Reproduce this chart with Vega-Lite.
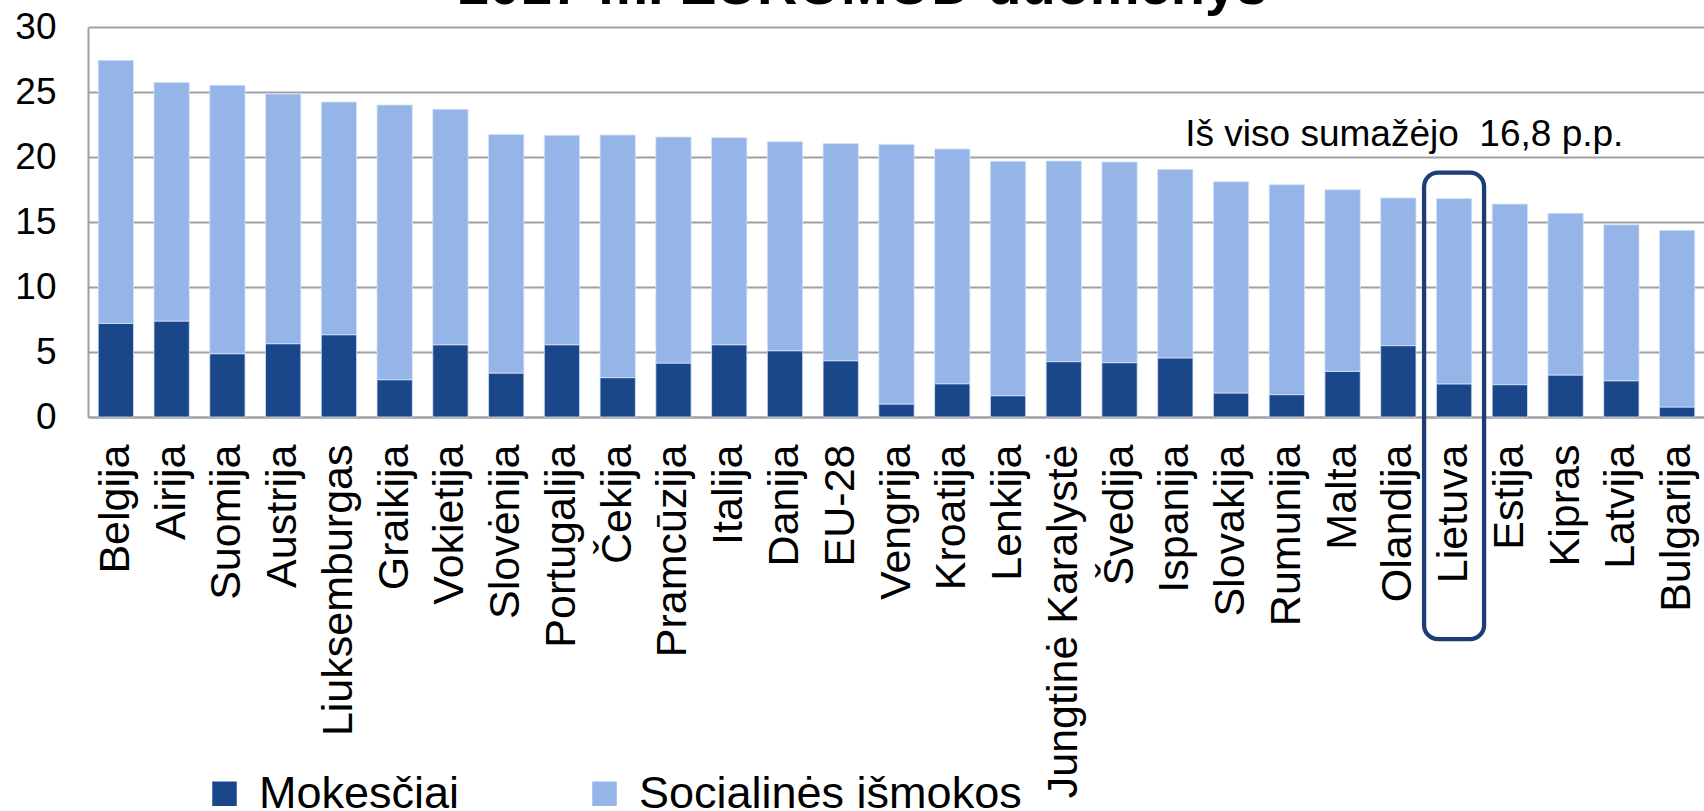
{
  "$schema": "https://vega.github.io/schema/vega-lite/v6.json",
  "autosize": {"type": "none"},
  "padding": {"left": 88, "top": 27, "right": 0, "bottom": 394},
  "width": 1617,
  "height": 390,
  "config": {
    "view": {"stroke": null},
    "font": "Liberation Sans",
    "axis": {"labelFont": "Liberation Sans", "labelColor": "#000000"},
    "legend": {"labelFont": "Liberation Sans"}
  },
  "datasets": {
    "bars": [
      {"country": "Belgija", "series": "Mokesčiai", "value": 7.2},
      {"country": "Belgija", "series": "Socialinės išmokos", "value": 20.24},
      {"country": "Airija", "series": "Mokesčiai", "value": 7.38},
      {"country": "Airija", "series": "Socialinės išmokos", "value": 18.36},
      {"country": "Suomija", "series": "Mokesčiai", "value": 4.87},
      {"country": "Suomija", "series": "Socialinės išmokos", "value": 20.64},
      {"country": "Austrija", "series": "Mokesčiai", "value": 5.64},
      {"country": "Austrija", "series": "Socialinės išmokos", "value": 19.21},
      {"country": "Liuksemburgas", "series": "Mokesčiai", "value": 6.33},
      {"country": "Liuksemburgas", "series": "Socialinės išmokos", "value": 17.9},
      {"country": "Graikija", "series": "Mokesčiai", "value": 2.87},
      {"country": "Graikija", "series": "Socialinės išmokos", "value": 21.13},
      {"country": "Vokietija", "series": "Mokesčiai", "value": 5.56},
      {"country": "Vokietija", "series": "Socialinės išmokos", "value": 18.11},
      {"country": "Slovėnija", "series": "Mokesčiai", "value": 3.38},
      {"country": "Slovėnija", "series": "Socialinės išmokos", "value": 18.36},
      {"country": "Portugalija", "series": "Mokesčiai", "value": 5.56},
      {"country": "Portugalija", "series": "Socialinės išmokos", "value": 16.11},
      {"country": "Čekija", "series": "Mokesčiai", "value": 3.03},
      {"country": "Čekija", "series": "Socialinės išmokos", "value": 18.66},
      {"country": "Pramcūzija", "series": "Mokesčiai", "value": 4.15},
      {"country": "Pramcūzija", "series": "Socialinės išmokos", "value": 17.39},
      {"country": "Italija", "series": "Mokesčiai", "value": 5.56},
      {"country": "Italija", "series": "Socialinės išmokos", "value": 15.93},
      {"country": "Danija", "series": "Mokesčiai", "value": 5.1},
      {"country": "Danija", "series": "Socialinės išmokos", "value": 16.08},
      {"country": "EU-28", "series": "Mokesčiai", "value": 4.33},
      {"country": "EU-28", "series": "Socialinės išmokos", "value": 16.7},
      {"country": "Vengrija", "series": "Mokesčiai", "value": 1.0},
      {"country": "Vengrija", "series": "Socialinės išmokos", "value": 19.97},
      {"country": "Kroatija", "series": "Mokesčiai", "value": 2.56},
      {"country": "Kroatija", "series": "Socialinės išmokos", "value": 18.06},
      {"country": "Lenkija", "series": "Mokesčiai", "value": 1.64},
      {"country": "Lenkija", "series": "Socialinės išmokos", "value": 18.03},
      {"country": "Jungtinė Karalystė", "series": "Mokesčiai", "value": 4.26},
      {"country": "Jungtinė Karalystė", "series": "Socialinės išmokos", "value": 15.43},
      {"country": "Švedija", "series": "Mokesčiai", "value": 4.18},
      {"country": "Švedija", "series": "Socialinės išmokos", "value": 15.44},
      {"country": "Ispanija", "series": "Mokesčiai", "value": 4.55},
      {"country": "Ispanija", "series": "Socialinės išmokos", "value": 14.5},
      {"country": "Slovakija", "series": "Mokesčiai", "value": 1.85},
      {"country": "Slovakija", "series": "Socialinės išmokos", "value": 16.25},
      {"country": "Rumunija", "series": "Mokesčiai", "value": 1.72},
      {"country": "Rumunija", "series": "Socialinės išmokos", "value": 16.15},
      {"country": "Malta", "series": "Mokesčiai", "value": 3.51},
      {"country": "Malta", "series": "Socialinės išmokos", "value": 13.98},
      {"country": "Olandija", "series": "Mokesčiai", "value": 5.49},
      {"country": "Olandija", "series": "Socialinės išmokos", "value": 11.36},
      {"country": "Lietuva", "series": "Mokesčiai", "value": 2.55},
      {"country": "Lietuva", "series": "Socialinės išmokos", "value": 14.25},
      {"country": "Estija", "series": "Mokesčiai", "value": 2.49},
      {"country": "Estija", "series": "Socialinės išmokos", "value": 13.89},
      {"country": "Kipras", "series": "Mokesčiai", "value": 3.23},
      {"country": "Kipras", "series": "Socialinės išmokos", "value": 12.44},
      {"country": "Latvija", "series": "Mokesčiai", "value": 2.79},
      {"country": "Latvija", "series": "Socialinės išmokos", "value": 12.0},
      {"country": "Bulgarija", "series": "Mokesčiai", "value": 0.77},
      {"country": "Bulgarija", "series": "Socialinės išmokos", "value": 13.59}
    ],
    "highlight": [
      {"country": "Lietuva", "top": 18.8, "bottom": -17.09}
    ],
    "note": [
      {"country": "Olandija", "y": 20.87, "label": "Iš viso sumažėjo\u00a0 16,8 p.p."}
    ],
    "heading": [
      {"country": "EU-28", "y": 31.8, "label": "2017 m. EUROMOD duomenys"}
    ]
  },
  "layer": [
    {
      "data": {"name": "bars"},
      "mark": {"type": "bar", "stroke": "#D6E2F7", "strokeWidth": 0.8},
      "encoding": {
        "x": {
          "field": "country", "type": "nominal", "sort": null,
          "scale": {"paddingInner": 0.367, "paddingOuter": 0.1835},
          "axis": {"title": null, "labelAngle": -90, "labelFontSize": 43, "labelPadding": 27, "ticks": false, "labelLimit": 1000, "labelOverlap": false, "domainColor": "#A0A0A0", "domainWidth": 2, "grid": false}
        },
        "y": {
          "field": "value", "type": "quantitative", "stack": "zero",
          "scale": {"domain": [0, 30], "nice": false},
          "axis": {"title": null, "values": [0, 5, 10, 15, 20, 25, 30], "labelFontSize": 37, "labelPadding": 32, "ticks": false, "grid": true, "gridColor": "#A0A0A0", "gridWidth": 2, "domainColor": "#A0A0A0", "domainWidth": 2}
        },
        "color": {
          "field": "series", "type": "nominal",
          "scale": {"domain": ["Mokesčiai", "Socialinės išmokos"], "range": ["#1A4789", "#95B4E8"]},
          "legend": {"title": null, "orient": "none", "direction": "horizontal", "legendX": 114, "legendY": 744, "labelFontSize": 45, "labelColor": "#000000", "labelLimit": 1000, "symbolType": "square", "symbolSize": 600, "symbolStrokeWidth": 0, "labelOffset": 12, "columnPadding": 122, "padding": 0}
        },
        "order": {"field": "series", "sort": "ascending"}
      }
    },
    {
      "data": {"name": "highlight"},
      "mark": {"type": "bar", "width": 60, "filled": false, "stroke": "#1C3E74", "strokeWidth": 4.3, "cornerRadius": 14, "clip": false},
      "encoding": {
        "x": {"field": "country", "type": "nominal", "sort": null},
        "y": {"field": "top", "type": "quantitative", "scale": {"domain": [0, 30], "nice": false}},
        "y2": {"field": "bottom"}
      }
    },
    {
      "data": {"name": "note"},
      "mark": {"type": "text", "font": "Liberation Sans", "fontSize": 37, "color": "#000000", "align": "center", "baseline": "alphabetic", "dx": 6},
      "encoding": {
        "x": {"field": "country", "type": "nominal", "sort": null},
        "y": {"field": "y", "type": "quantitative", "scale": {"domain": [0, 30], "nice": false}},
        "text": {"field": "label"}
      }
    },
    {
      "data": {"name": "heading"},
      "mark": {"type": "text", "font": "Liberation Sans", "fontSize": 56, "fontWeight": "bold", "color": "#000000", "align": "center", "baseline": "alphabetic", "dx": 22, "clip": false},
      "encoding": {
        "x": {"field": "country", "type": "nominal", "sort": null},
        "y": {"field": "y", "type": "quantitative", "scale": {"domain": [0, 30], "nice": false}},
        "text": {"field": "label"}
      }
    }
  ]
}
